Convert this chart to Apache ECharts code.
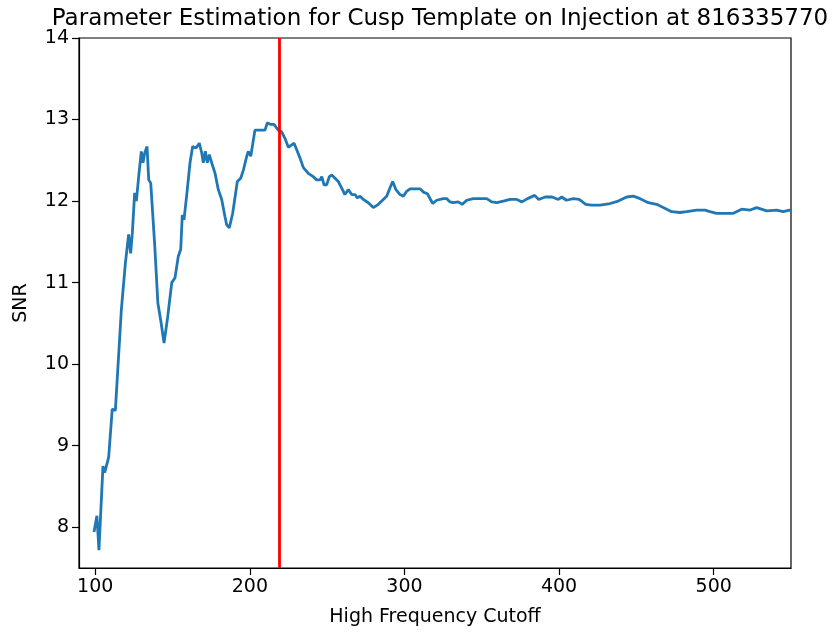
<!DOCTYPE html>
<html>
<head>
<meta charset="utf-8">
<script src="https://cdn.jsdelivr.net/npm/echarts@6/dist/echarts.min.js"></script>
<style>
  html, body { margin: 0; padding: 0; background: #fff; }
  #chart { width: 836px; height: 632px; }
</style>
</head>
<body>
<div id="chart"></div>
<script>
// High frequency cutoff (Hz)
var freqs = [
    99.2, 101.1, 102.4, 105.0, 106.1, 108.7, 111.0, 113.0, 116.9, 119.5,
    121.6, 122.9, 124.0, 125.5, 126.6, 128.1, 129.8, 130.9, 132.0, 133.5,
    134.6, 135.9, 138.5, 140.5, 142.5, 144.5, 146.8, 149.5, 151.6, 153.7,
    155.3, 156.3, 157.4, 159.2, 161.3, 163.0, 165.2, 167.3, 168.9, 169.9,
    171.2, 172.5, 173.8, 175.3, 177.5, 179.6, 181.8, 183.9, 185.0, 186.7,
    188.9, 191.9, 194.1, 195.8, 198.0, 199.0, 200.6, 203.3, 206.6, 209.8,
    211.3, 213.5, 215.6, 218.4, 220.6, 222.7, 224.9, 227.1, 228.6, 230.3,
    232.4, 234.6, 237.8, 241.0, 243.2, 245.4, 246.5, 248.0, 249.7, 251.4,
    253.0, 255.1, 257.2, 259.4, 261.5, 263.7, 265.9, 268.0, 269.5, 271.3,
    273.4, 276.6, 279.9, 283.1, 286.3, 288.5, 290.6, 292.4, 294.5, 297.1,
    299.3, 301.4, 303.6, 307.9, 310.1, 312.2, 314.8, 318.3, 320.8, 325.1,
    327.3, 329.5, 331.6, 334.8, 337.3, 340.3, 344.5, 348.9, 353.2, 356.4,
    359.7, 364.0, 368.3, 372.6, 376.0, 379.6, 384.2, 386.8, 391.0, 395.5,
    399.5, 401.7, 404.7, 409.2, 413.0, 417.3, 421.0, 426.5, 433.0, 438.3,
    443.7, 448.0, 452.4, 457.7, 463.1, 467.4, 472.8, 478.2, 482.5, 489.0,
    494.4, 497.6, 501.9, 508.4, 512.7, 518.1, 523.5, 527.8, 534.3, 540.7,
    545.0, 549.0, 550.0
];

var snr = [
    7.94, 8.14, 7.72, 8.75, 8.67, 8.86, 9.45, 9.43, 10.67, 11.24,
    11.59, 11.36, 11.61, 12.10, 12.00, 12.30, 12.61, 12.47, 12.59, 12.67,
    12.26, 12.22, 11.45, 10.75, 10.52, 10.26, 10.57, 11.00, 11.06, 11.32,
    11.41, 11.83, 11.77, 12.08, 12.47, 12.67, 12.65, 12.71, 12.59, 12.47,
    12.61, 12.47, 12.57, 12.47, 12.34, 12.14, 12.02, 11.81, 11.71, 11.67,
    11.85, 12.24, 12.28, 12.38, 12.55, 12.61, 12.55, 12.87, 12.87, 12.87,
    12.96, 12.94, 12.94, 12.87, 12.85, 12.77, 12.66, 12.69, 12.71, 12.63,
    12.53, 12.41, 12.34, 12.30, 12.26, 12.26, 12.30, 12.20, 12.20, 12.30,
    12.32, 12.28, 12.24, 12.16, 12.08, 12.14, 12.08, 12.08, 12.04, 12.06,
    12.02, 11.98, 11.92, 11.96, 12.02, 12.06, 12.16, 12.24, 12.14, 12.08,
    12.06, 12.12, 12.15, 12.15, 12.15, 12.11, 12.09, 11.97, 12.01, 12.03,
    12.03, 11.99, 11.98, 11.99, 11.96, 12.01, 12.03, 12.03, 12.03, 11.99,
    11.98, 12.00, 12.02, 12.02, 11.99, 12.03, 12.07, 12.02, 12.05, 12.05,
    12.02, 12.05, 12.01, 12.03, 12.02, 11.96, 11.95, 11.95, 11.97, 12.00,
    12.05, 12.06, 12.03, 11.98, 11.96, 11.92, 11.87, 11.86, 11.87, 11.89,
    11.89, 11.87, 11.85, 11.85, 11.85, 11.90, 11.89, 11.92, 11.88, 11.89,
    11.87, 11.89, 11.88
];

var xTicks = [100, 200, 300, 400, 500];
var yTicks = [8, 9, 10, 11, 12, 13, 14];
var cutoffMarker = 219;

var chart = echarts.init(document.getElementById("chart"));

var points = [];
for (var i = 0; i < freqs.length; i++) {
    points.push([freqs[i], snr[i]]);
}

var font = "DejaVu Sans";

var option = {
    animation: false,
    backgroundColor: "#fff",
    title: {
        text: "Parameter Estimation for Cusp Template on Injection at 816335770",
        left: 435,
        top: 3,
        textAlign: "center",
        textStyle: {
            fontFamily: font,
            fontWeight: "normal",
            fontSize: 23,
            color: "#000"
        }
    },
    grid: {
        left: 79,
        right: 45,
        top: 38,
        bottom: 64,
        show: true,
        borderColor: "#000",
        borderWidth: 1.2,
        backgroundColor: "transparent"
    },
    xAxis: {
        type: "value",
        min: 89.5,
        max: 550,
        name: "High Frequency Cutoff",
        nameLocation: "middle",
        nameGap: 40,
        nameTextStyle: { fontFamily: font, fontSize: 19, color: "#000" },
        axisLine: { show: true, onZero: false, lineStyle: { color: "#000", width: 1.2 } },
        axisTick: { show: true, customValues: xTicks, length: 7, lineStyle: { color: "#000", width: 1.2 } },
        axisLabel: { customValues: xTicks, margin: 10, fontFamily: font, fontSize: 19, color: "#000" },
        splitLine: { show: false }
    },
    yAxis: {
        type: "value",
        min: 7.5,
        max: 14,
        name: "SNR",
        nameLocation: "middle",
        nameGap: 48,
        nameTextStyle: { fontFamily: font, fontSize: 19, color: "#000" },
        axisLine: { show: true, onZero: false, lineStyle: { color: "#000", width: 1.2 } },
        axisTick: { show: true, customValues: yTicks, length: 7, lineStyle: { color: "#000", width: 1.2 } },
        axisLabel: { customValues: yTicks, margin: 10, fontFamily: font, fontSize: 19, color: "#000" },
        splitLine: { show: false }
    },
    series: [
        {
            type: "line",
            data: points,
            showSymbol: false,
            lineStyle: { color: "#1f77b4", width: 2.8 },
            markLine: {
                silent: true,
                symbol: "none",
                label: { show: false },
                lineStyle: { color: "#ff0000", width: 2.8, type: "solid" },
                data: [{ xAxis: cutoffMarker }]
            }
        }
    ]
};

chart.setOption(option);
</script>
</body>
</html>
